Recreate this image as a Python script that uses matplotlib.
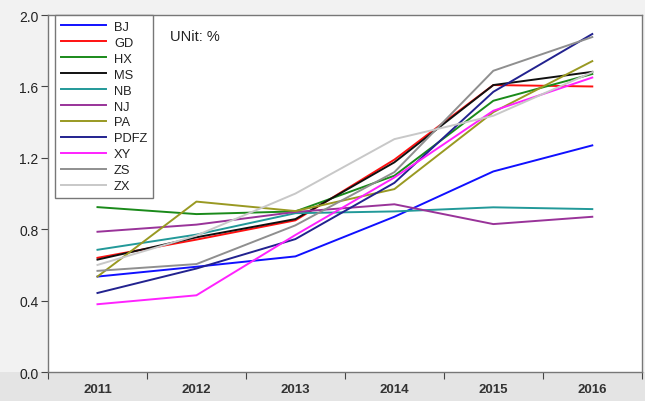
import matplotlib
matplotlib.use("Agg")
import matplotlib.pyplot as plt
from matplotlib.patches import Rectangle

years = ["2011", "2012", "2013", "2014", "2015", "2016"]
BJ = [0.535, 0.59, 0.648, 0.87, 1.124, 1.27]
GD = [0.64, 0.742, 0.85, 1.19, 1.608, 1.60]
HX = [0.924, 0.885, 0.90, 1.10, 1.52, 1.67]
MS = [0.63, 0.755, 0.857, 1.175, 1.608, 1.682]
NB = [0.685, 0.77, 0.89, 0.90, 0.923, 0.913]
NJ = [0.786, 0.826, 0.897, 0.94, 0.829, 0.87]
PA = [0.535, 0.955, 0.902, 1.025, 1.456, 1.742]
PDFZ = [0.443, 0.58, 0.745, 1.06, 1.57, 1.894]
XY = [0.38, 0.43, 0.768, 1.09, 1.464, 1.65]
ZS = [0.567, 0.605, 0.822, 1.12, 1.688, 1.877]
ZX = [0.60, 0.765, 1.0, 1.305, 1.436, 1.68]

names = ["BJ", "GD", "HX", "MS", "NB", "NJ", "PA", "PDFZ", "XY", "ZS", "ZX"]
series = [BJ, GD, HX, MS, NB, NJ, PA, PDFZ, XY, ZS, ZX]
colors = ["#1010ff", "#ff1010", "#1a8a1a", "#101010", "#229999", "#993399",
          "#999922", "#22228f", "#ff22ff", "#8f8f8f", "#c8c8c8"]

plt.rcParams['font.family'] = ['Liberation Sans', 'DejaVu Sans']

fig = plt.figure(figsize=(6.45, 4.02), dpi=100, facecolor="#f2f2f2")
bg = fig.add_axes([0, 0, 1, 0.072], zorder=0)
bg.set_axis_off()
bg.add_patch(Rectangle((0, 0), 1, 1, transform=bg.transAxes,
                       facecolor="#e4e4e4", edgecolor="none"))
ax = fig.add_axes([0.0744, 0.072, 0.9206, 0.888], zorder=2)
ax.set_facecolor("white")

x = list(range(len(years)))
for name, vals, c in zip(names, series, colors):
    ax.plot(x, vals, color=c, lw=1.4, label=name)

ax.set_xlim(-0.5, len(years) - 0.5)
ax.set_ylim(0, 2.0)
ax.set_yticks([0.0, 0.4, 0.8, 1.2, 1.6, 2.0])
ax.set_yticklabels(["0.0", "0.4", "0.8", "1.2", "1.6", "2.0"], fontsize=10, color="#222222")
ax.set_xticks([i - 0.5 for i in range(len(years) + 1)])
ax.set_xticklabels([])
ax.set_xticks(x, minor=True)
ax.set_xticklabels(years, minor=True, fontsize=9.5, color="#333333", fontweight="bold")
ax.tick_params(axis="x", which="minor", length=0, pad=8)
ax.tick_params(axis="x", which="major", length=5, color="#444444")
ax.tick_params(axis="y", length=5, color="#444444", pad=2)
for s in ax.spines.values():
    s.set_color("#777777")
    s.set_linewidth(1.0)

leg = ax.legend(loc="upper left", bbox_to_anchor=(0.012, 1.0), borderaxespad=0,
                fontsize=9.3, handlelength=3.5, handletextpad=0.6, labelspacing=0.3,
                fancybox=False, framealpha=1, edgecolor="#777777",
                borderpad=0.45)
leg.get_frame().set_linewidth(1.0)
for t in leg.get_texts():
    t.set_color("#222222")

ax.text(0.205, 0.94, "UNit: %", transform=ax.transAxes, fontsize=10.5,
        color="#222222", va="center", ha="left")

fig.savefig("out.png", dpi=100, facecolor=fig.get_facecolor())
